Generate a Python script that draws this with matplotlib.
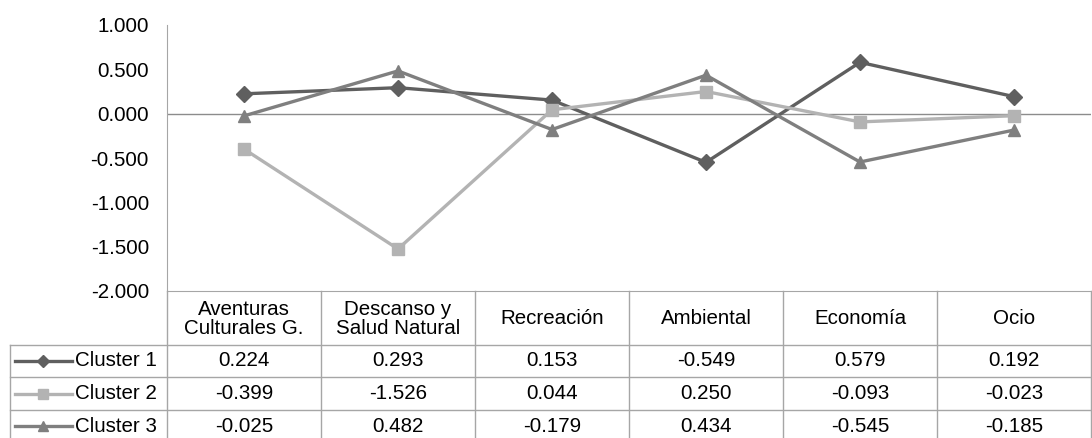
import numpy as np
import matplotlib.pyplot as plt
from matplotlib.lines import Line2D

plt.rcParams['font.family'] = ['Liberation Sans', 'DejaVu Sans']

categories = ["Aventuras\nCulturales G.", "Descanso y\nSalud Natural", "Recreación",
              "Ambiental", "Economía", "Ocio"]
series_names = ["Cluster 1", "Cluster 2", "Cluster 3"]
cluster1 = [0.224, 0.293, 0.153, -0.549, 0.579, 0.192]
cluster2 = [-0.399, -1.526, 0.044, 0.250, -0.093, -0.023]
cluster3 = [-0.025, 0.482, -0.179, 0.434, -0.545, -0.185]
y_ticks = [1.0, 0.5, 0.0, -0.5, -1.0, -1.5, -2.0]

series = [cluster1, cluster2, cluster3]
colors = ["#5f5f5f", "#b3b3b3", "#7f7f7f"]
markers = ["D", "s", "^"]
msizes = [8, 8.5, 9]
grid_c = "#a6a6a6"
FS = 14.8

W, H = 1092, 438
fig = plt.figure(figsize=(W / 100, H / 100), dpi=100)

# pixel layout helpers
def fx(px):
    return px / W

def fy(py):
    return 1 - py / H

left_px, right_px, top_px, bot_px = 167, 1091, 25, 291
ax = fig.add_axes([fx(left_px), fy(bot_px), fx(right_px) - fx(left_px), fy(top_px) - fy(bot_px)])
ax.set_xlim(-0.5, len(categories) - 0.5)
ax.set_ylim(-2.0, 1.0)
ax.set_yticks(y_ticks)
ax.set_yticklabels([f"{v:.3f}" for v in y_ticks], fontsize=FS)
ax.tick_params(axis='y', length=0, pad=13)
ax.set_xticks([])
for s in ["top", "right"]:
    ax.spines[s].set_visible(False)
ax.spines["left"].set_color(grid_c)
ax.spines["bottom"].set_color(grid_c)
ax.axhline(0, color="#8c8c8c", lw=1, zorder=1)

x = np.arange(len(categories))
for vals, c, m, ms in zip(series, colors, markers, msizes):
    ax.plot(x, vals, color=c, lw=2.4, marker=m, markersize=ms, zorder=3)

# data table
col_w = (right_px - left_px) / len(categories)
row_lines = [345, 377, 410]
line_kw = dict(color=grid_c, lw=1, transform=fig.transFigure)
for py in row_lines:
    fig.add_artist(Line2D([fx(10), fx(right_px)], [fy(py), fy(py)], **line_kw))
fig.add_artist(Line2D([fx(10), fx(10)], [fy(345), fy(H)], **line_kw))
for k in range(len(categories) + 1):
    px = left_px + k * col_w
    fig.add_artist(Line2D([fx(px), fx(px)], [fy(bot_px), fy(H)], **line_kw))

for i, cat in enumerate(categories):
    cx = left_px + (i + 0.5) * col_w
    fig.text(fx(cx), fy((bot_px + 345) / 2 + 1), cat, ha="center", va="center",
             fontsize=FS, linespacing=0.95)

row_bounds = [345, 377, 410, 442]
for r, (name, vals, c, m) in enumerate(zip(series_names, series, colors, markers)):
    cy = (row_bounds[r] + row_bounds[r + 1]) / 2
    fig.add_artist(Line2D([fx(15), fx(72)], [fy(cy), fy(cy)], color=c, lw=2.4,
                          transform=fig.transFigure))
    fig.add_artist(Line2D([fx(43)], [fy(cy)], color=c, marker=m, markersize=6.5,
                          transform=fig.transFigure))
    fig.text(fx(75), fy(cy), name, ha="left", va="center", fontsize=FS)
    for i, v in enumerate(vals):
        cx = left_px + (i + 0.5) * col_w
        fig.text(fx(cx), fy(cy), f"{v:.3f}", ha="center", va="center", fontsize=FS)

fig.savefig("out.png", dpi=100)
